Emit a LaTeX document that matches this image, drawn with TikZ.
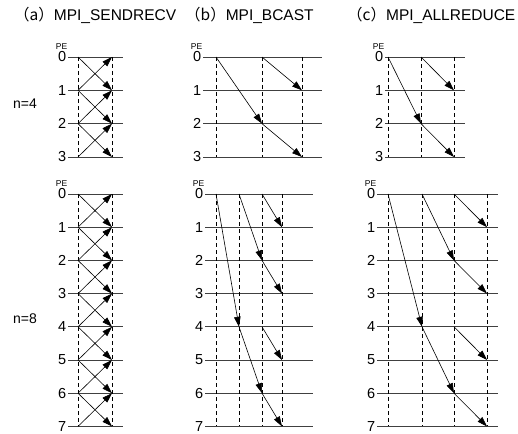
\documentclass[tikz,border=0pt]{standalone}
\usepackage{fontspec}
\setmainfont{Liberation Sans}
\newfontfamily\jpfont{Noto Sans CJK JP}
\usetikzlibrary{arrows.meta}

\begin{document}
\begin{tikzpicture}[x=1pt, y=-1pt,
  title/.style={anchor=west, inner sep=0pt, font=\fontsize{15.5}{16}\selectfont},
  nlabel/.style={anchor=west, inner sep=0pt, font=\fontsize{14}{14}\selectfont},
  pelabel/.style={anchor=east, inner sep=1.5pt, font=\fontsize{14.5}{14.5}\selectfont},
  petag/.style={anchor=south east, inner sep=0.5pt, font=\fontsize{8.5}{8.5}\selectfont},
  hline/.style={line width=0.8pt, black!75},
  vline/.style={line width=0.6pt, dash pattern=on 4pt off 3pt},
  msg/.style={-{Triangle[length=10pt, width=6.5pt]}, line width=0.6pt}
]
  \useasboundingbox (0,0) rectangle (518,433);

  % titles
  \node[title] (ta) at (14,15) {{\jpfont （a）}MPI\_SENDRECV};
  \node[title] (tb) at (185,15) {{\jpfont （b）}MPI\_BCAST};
  \node[title] (tc) at (347,15) {{\jpfont （c）}MPI\_ALLREDUCE};
  \node[nlabel] (n4) at (13,104) {n=4};
  \node[nlabel] (n8) at (13,319) {n=8};

  % grids: name / last row / row 0 y / row step / line start / line end / columns
  \foreach \p/\m/\ya/\dy/\xs/\xe/\cols in {
      a4/3/57/33.33/68/123/{78,112},
      b4/3/57/33.33/203/322/{216,262,302},
      c4/3/57/33.33/385/465/{388,421,454},
      a8/7/194/33.2/68/123/{78,112},
      b8/7/194/33.2/205/313/{216,239,262,282},
      c8/7/194/33.2/377/498/{388,422,454,487}}{
    \foreach \r in {0,...,\m}{
      \pgfmathsetmacro\y{\ya+\dy*\r}
      \node[pelabel] (\p-n\r) at (\xs,\y) {\r};
      \draw[hline] (\xs,\y) -- (\xe,\y);
      \foreach \x [count=\c from 0] in \cols {
        \coordinate (\p-\c-\r) at (\x,\y);
      }
    }
    \node[petag] (\p-pe) at (\p-n0.north east) {PE};
    \foreach \x [count=\c from 0] in \cols {
      \draw[vline] (\p-\c-0) -- (\p-\c-\m);
    }
  }

  % (a) exchange with both neighbours
  \foreach \p/\m in {a4/2, a8/6}{
    \foreach \r in {0,...,\m}{
      \pgfmathtruncatemacro\s{\r+1}
      \draw[msg] (\p-0-\r) -- (\p-1-\s);
      \draw[msg] (\p-0-\s) -- (\p-1-\r);
    }
  }

  % (b), (c) binary tree, n=4
  \foreach \p in {b4, c4}{
    \draw[msg] (\p-0-0) -- (\p-1-2);
    \draw[msg] (\p-1-0) -- (\p-2-1);
    \draw[msg] (\p-1-2) -- (\p-2-3);
  }

  % (b), (c) binary tree, n=8
  \foreach \p in {b8, c8}{
    \draw[msg] (\p-0-0) -- (\p-1-4);
    \draw[msg] (\p-1-0) -- (\p-2-2);
    \draw[msg] (\p-2-0) -- (\p-3-1);
    \draw[msg] (\p-2-2) -- (\p-3-3);
    \draw[msg] (\p-1-4) -- (\p-2-6);
    \draw[msg] (\p-2-4) -- (\p-3-5);
    \draw[msg] (\p-2-6) -- (\p-3-7);
  }
\end{tikzpicture}
\end{document}
